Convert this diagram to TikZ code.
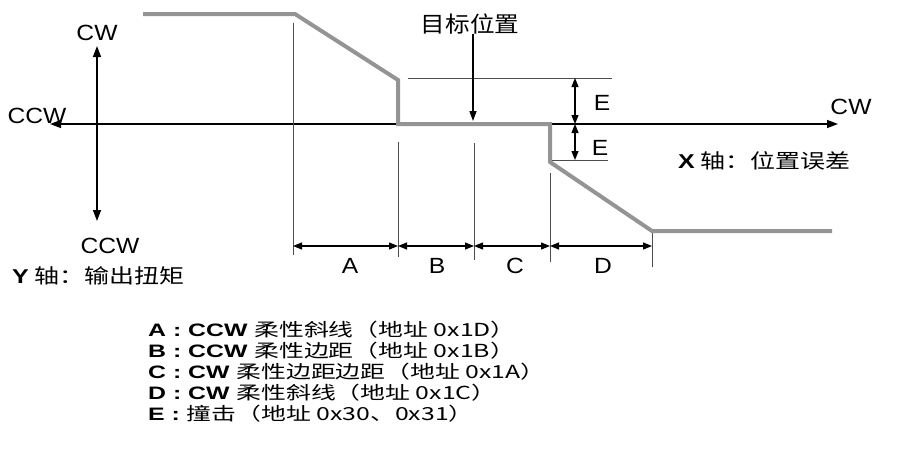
\documentclass[tikz,border=0pt]{standalone}
\usepackage{fontspec}
\setmainfont{Liberation Sans}
\newfontfamily\cjk{Noto Sans CJK SC}
\usetikzlibrary{arrows.meta}
\newcommand{\hs}[2]{\scalebox{#1}[1]{#2}}
\begin{document}
\begin{tikzpicture}[x=1pt,y=-1pt,
  curve/.style={line width=4pt, draw=black!42, line join=miter},
  axis/.style={line width=1.4pt, {Triangle[length=11pt,width=8pt]}-{Triangle[length=11pt,width=8pt]}},
  guide/.style={line width=0.9pt, draw=black!70},
  dimarrow/.style={line width=1.2pt, {Triangle[length=9pt,width=7pt]}-{Triangle[length=9pt,width=7pt]}},
  onearrow/.style={line width=1.3pt, -{Triangle[length=10pt,width=7pt]}},
  lbl/.style={font=\fontsize{22}{22}\selectfont, inner sep=0pt},
  zh/.style={font=\fontsize{20}{20}\selectfont\cjk, inner sep=0pt},
  leg/.style={font=\fontsize{18}{18}\selectfont, inner sep=0pt, anchor=west}
]
\useasboundingbox (0,0) rectangle (913,461);
% curve points
\coordinate (p1) at (143,14);
\coordinate (p2) at (295,14);
\coordinate (p3) at (398,80);
\coordinate (p4) at (398,124);
\coordinate (p5) at (550,124);
\coordinate (p6) at (550,162);
\coordinate (p7) at (652,231);
\coordinate (p8) at (832,231);
% axes
\coordinate (xl) at (50,124);
\coordinate (xr) at (838,124);
\coordinate (yt) at (97,46);
\coordinate (yb) at (97,221);
\draw[axis] (xl) -- (xr);
\draw[axis] (yt) -- (yb);
% guides
\coordinate (g1t) at (293,23);  \coordinate (g1b) at (293,255);
\coordinate (g2t) at (398,142); \coordinate (g2b) at (398,257);
\coordinate (g3t) at (474,143); \coordinate (g3b) at (474,260);
\coordinate (g4t) at (550,173); \coordinate (g4b) at (550,262);
\coordinate (g5t) at (652,231); \coordinate (g5b) at (652,267);
\foreach \i in {1,...,5} \draw[guide] (g\i t) -- (g\i b);
\coordinate (e1a) at (408,78);  \coordinate (e1b) at (612,78);
\coordinate (e2a) at (552,160); \coordinate (e2b) at (608,160);
\draw[guide] (e1a) -- (e1b);
\draw[guide] (e2a) -- (e2b);
% dimension arrows
\coordinate (d1) at (293,246);
\coordinate (d2) at (398,246);
\coordinate (d3) at (474,246);
\coordinate (d4) at (550,246);
\coordinate (d5) at (652,246);
\draw[dimarrow] (d1) -- (d2);
\draw[dimarrow] (d2) -- (d3);
\draw[dimarrow] (d3) -- (d4);
\draw[dimarrow] (d4) -- (d5);
% E arrows
\coordinate (ea) at (575,78);
\coordinate (eb) at (575,124);
\coordinate (ec) at (575,160);
\draw[dimarrow] (ea) -- (eb);
\draw[dimarrow] (eb) -- (ec);
% target
\node[zh, font=\fontsize{22}{22}\selectfont\cjk] (tgt) at (470,24) {\hs{1.12}{目标位置}};
\coordinate (tgtend) at (473,121);
\draw[onearrow] (tgt.south -| tgtend) -- (tgtend);
% curve on top
\draw[curve] (p1) -- (p2) -- (p3) -- (p4) -- (p5) -- (p6) -- (p7) -- (p8);
% labels
\node[lbl] (ycw) at (97,33) {\hs{1.12}{CW}};
\node[lbl] (xccw) at (37,116) {\hs{1.12}{CCW}};
\node[lbl] (yccw) at (110,246) {\hs{1.12}{CCW}};
\node[lbl] (xcw) at (851,107) {\hs{1.12}{CW}};
\node[lbl] (la) at (350,266) {\hs{1.12}{A}};
\node[lbl] (lb) at (437,266) {\hs{1.12}{B}};
\node[lbl] (lc) at (515,266) {\hs{1.12}{C}};
\node[lbl] (ld) at (603,266) {\hs{1.12}{D}};
\node[lbl] (le1) at (602,103) {\hs{1.12}{E}};
\node[lbl] (le2) at (600,148) {\hs{1.12}{E}};
\node[zh, anchor=west] (yax) at (12,276) {\hs{1.25}{\textbf{\fontspec{Liberation Sans}Y}\ 轴：输出扭矩}};
\node[zh, anchor=west] (xax) at (678,161) {\hs{1.25}{\textbf{\fontspec{Liberation Sans}X}\ 轴：位置误差}};
% legend
\node[leg] (l1) at (148,330) {\hs{1.38}{\textbf{A : CCW} {\cjk 柔性斜线（地址 0x1D）}}};
\node[leg] (l2) at (148,351) {\hs{1.38}{\textbf{B : CCW} {\cjk 柔性边距（地址 0x1B）}}};
\node[leg] (l3) at (148,372) {\hs{1.38}{\textbf{C : CW} {\cjk 柔性边距边距（地址 0x1A）}}};
\node[leg] (l4) at (148,393) {\hs{1.38}{\textbf{D : CW} {\cjk 柔性斜线（地址 0x1C）}}};
\node[leg] (l5) at (148,414) {\hs{1.38}{\textbf{E :} {\cjk 撞击（地址 0x30、0x31）}}};
\end{tikzpicture}
\end{document}
